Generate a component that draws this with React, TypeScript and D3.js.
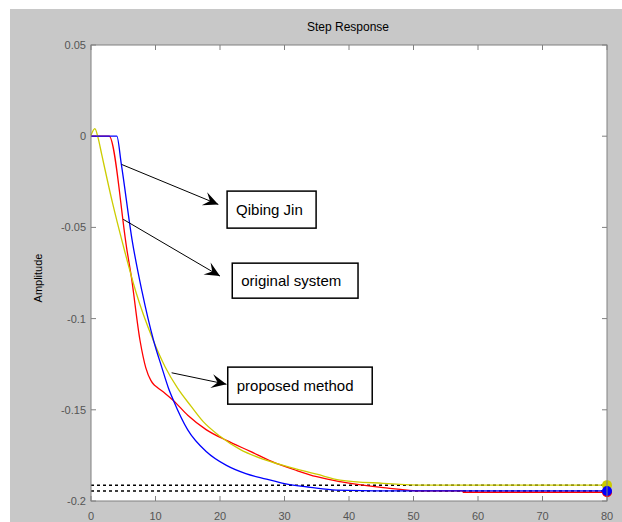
import React from "react";
import * as d3 from "d3";

// Step response samples (time in s, amplitude)
const qibingT = [0, 4.0, 4.7, 6.4, 7.9, 9.7, 11, 12, 12.8, 15, 17.9, 21, 24, 27.2, 30, 34, 38, 50, 80];
const qibingV = [0, 0, -0.0153, -0.0575, -0.085, -0.112, -0.127, -0.138, -0.145, -0.161, -0.173, -0.1805, -0.185, -0.188, -0.1905, -0.1925, -0.194, -0.1945, -0.1945];

const originalT = [0, 2.8, 5.6, 6.2, 7.6, 8.5, 9.3, 9.7, 10.2, 11.5, 12.8, 15, 17.9, 21, 24.7, 28, 31.9, 35, 38.6, 45.3, 51.5, 57.6, 57.7, 80];
const originalV = [0, 0, -0.063, -0.0758, -0.112, -0.127, -0.134, -0.136, -0.1375, -0.141, -0.145, -0.153, -0.161, -0.1668, -0.1728, -0.1783, -0.1833, -0.1867, -0.1894, -0.1927, -0.1945, -0.1945, -0.1952, -0.1952];

const proposedT = [0, 0.6, 1.1, 1.66, 3.3, 5.0, 6.93, 9.66, 11.5, 13.4, 15.5, 17.4, 20, 23.1, 27, 31.9, 35, 38.6, 45.3, 52, 80];
const proposedV = [0.0005, 0.0042, -0.0009, -0.01, -0.036, -0.06, -0.085, -0.112, -0.1265, -0.138, -0.148, -0.1565, -0.1645, -0.1717, -0.1775, -0.1825, -0.1853, -0.1885, -0.1903, -0.1913, -0.1913];

// steady-state levels (dotted guides)
const finalLevels = [-0.1913, -0.1945];

const xTicks = [0, 10, 20, 30, 40, 50, 60, 70, 80];
const yTicks = [0.05, 0, -0.05, -0.1, -0.15, -0.2];
const yTickLabels = ["0.05", "0", "-0.05", "-0.1", "-0.15", "-0.2"];

// annotations in data units: arrow [t0, v0, t1, v1], box [tLeft, vTop, tRight, vBottom]
const noteLabels = ["Qibing Jin", "original system", "proposed method"];
const noteArrows = [
  [4.76, -0.0155, 19.74, -0.0374],
  [5.0, -0.0456, 20.0, -0.0767],
  [12.5, -0.1297, 21.0, -0.136],
];
const noteBoxes = [
  [21.1, -0.0301, 34.9, -0.0504],
  [21.9, -0.0696, 41.4, -0.0888],
  [21.2, -0.1266, 43.6, -0.1469],
];

const W = 622;
const H = 522;
const left = 91;
const right = 607;
const top = 45;
const bottom = 501;

const font = "'Liberation Sans', Arial, sans-serif";

const App = () => {
  const x = d3.scaleLinear().domain([0, 80]).range([left, right]);
  const y = d3.scaleLinear().domain([-0.2, 0.05]).range([bottom, top]);

  const line = d3
    .line<[number, number]>()
    .x((d) => x(d[0]))
    .y((d) => y(d[1]))
    .curve(d3.curveMonotoneX);

  const series = [
    { t: originalT, v: originalV, color: "#ff0000" },
    { t: proposedT, v: proposedV, color: "#cccc00" },
    { t: qibingT, v: qibingV, color: "#0000ff" },
  ];

  const arrowHead = (a: number[]) => {
    const x0 = x(a[0]), y0 = y(a[1]), x1 = x(a[2]), y1 = y(a[3]);
    const ang = Math.atan2(y1 - y0, x1 - x0);
    const len = 15, half = 7, back = 9;
    const p = (d: number, s: number) => [
      x1 - d * Math.cos(ang) - s * Math.sin(ang),
      y1 - d * Math.sin(ang) + s * Math.cos(ang),
    ];
    const pts = [[x1, y1], p(len, half), p(back, 0), p(len, -half)];
    return pts.map((q) => q.join(",")).join(" ");
  };

  return (
    <div style={{ position: "absolute", left: 0, top: 0 }}>
      <svg width={W} height={H} style={{ display: "block" }}>
        <rect x={0} y={0} width={W} height={H} fill="#ffffff" />
        <rect x={10} y={9} width={W - 10} height={H - 9} fill="#c8c8c8" />
        <rect x={left} y={top} width={right - left} height={bottom - top} fill="#ffffff" />

        <text x={348} y={31} textAnchor="middle" fontFamily={font} fontSize={12} fill="#000">
          Step Response
        </text>
        <text
          transform={`translate(42, 278) rotate(-90)`}
          textAnchor="middle"
          fontFamily={font}
          fontSize={11}
          fill="#000"
        >
          Amplitude
        </text>

        {/* ticks */}
        {xTicks.map((t) => (
          <g key={"x" + t}>
            <line x1={x(t)} x2={x(t)} y1={bottom} y2={bottom - 5} stroke="#808080" />
            <line x1={x(t)} x2={x(t)} y1={top} y2={top + 5} stroke="#808080" />
            <text x={x(t)} y={520} textAnchor="middle" fontFamily={font} fontSize={11} fill="#555">
              {t}
            </text>
          </g>
        ))}
        {yTicks.map((v, i) => (
          <g key={"y" + v}>
            <line x1={left} x2={left + 5} y1={y(v)} y2={y(v)} stroke="#808080" />
            <line x1={right} x2={right - 5} y1={y(v)} y2={y(v)} stroke="#808080" />
            <text x={86} y={y(v) + 4} textAnchor="end" fontFamily={font} fontSize={11} fill="#555">
              {yTickLabels[i]}
            </text>
          </g>
        ))}

        {finalLevels.map((v) => (
          <line
            key={"f" + v}
            x1={left}
            x2={right}
            y1={y(v)}
            y2={y(v)}
            stroke="#000"
            strokeWidth={1.5}
            strokeDasharray="3,3"
          />
        ))}

        {series.map((s, i) => (
          <path
            key={"s" + i}
            d={line(s.t.map((t, j) => [t, s.v[j]] as [number, number])) || ""}
            fill="none"
            stroke={s.color}
            strokeWidth={1.3}
          />
        ))}

        {series.map((s, i) => (
          <circle
            key={"m" + i}
            cx={x(s.t[s.t.length - 1])}
            cy={y(s.v[s.v.length - 1])}
            r={5}
            fill={s.color}
          />
        ))}

        <rect x={left} y={top} width={right - left} height={bottom - top} fill="none" stroke="#808080" />

        {noteLabels.map((label, i) => {
          const a = noteArrows[i];
          const b = noteBoxes[i];
          return (
            <g key={"n" + i}>
              <line x1={x(a[0])} y1={y(a[1])} x2={x(a[2])} y2={y(a[3])} stroke="#000" strokeWidth={1} />
              <polygon points={arrowHead(a)} fill="#000" />
              <rect
                x={x(b[0])}
                y={y(b[1])}
                width={x(b[2]) - x(b[0])}
                height={y(b[3]) - y(b[1])}
                fill="#fff"
                stroke="#000"
                strokeWidth={1.5}
              />
              <text
                x={x(b[0]) + 9}
                y={(y(b[1]) + y(b[3])) / 2 + 5}
                fontFamily={font}
                fontSize={15}
                fill="#000"
              >
                {label}
              </text>
            </g>
          );
        })}
      </svg>
    </div>
  );
};

export default App;
